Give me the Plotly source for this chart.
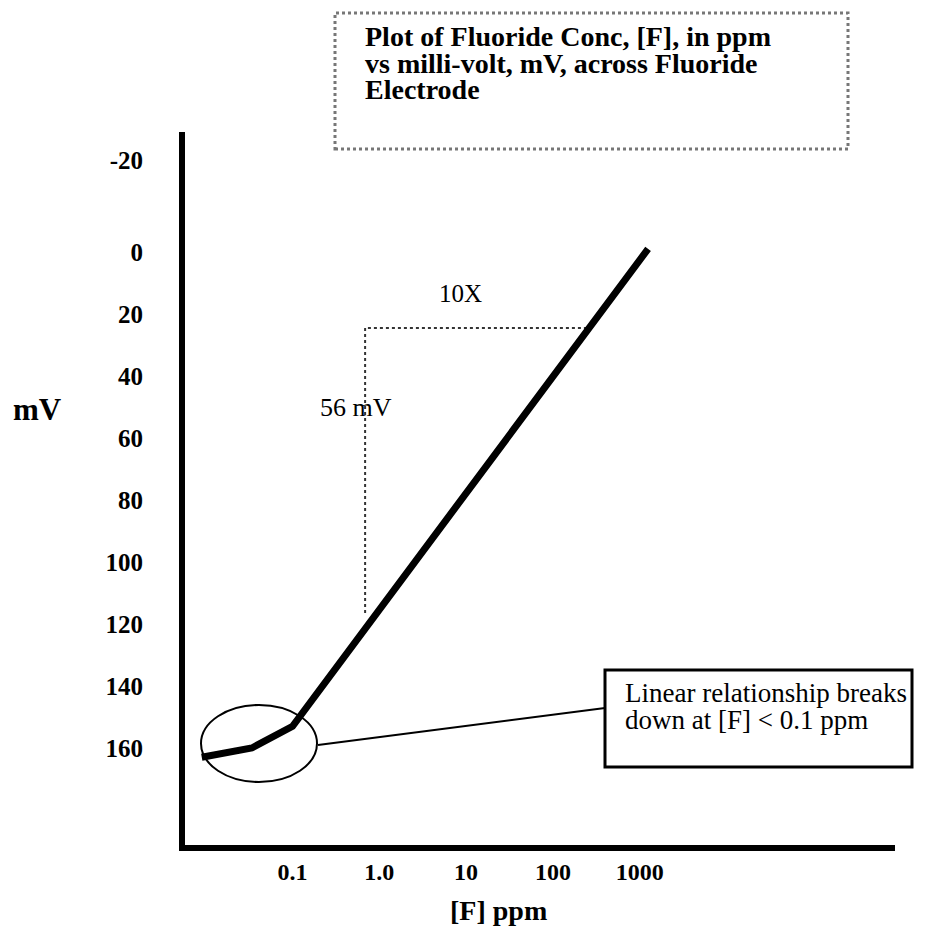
import plotly.graph_objects as go

# ---- data ----
conc_ppm = [0.009, 0.034, 0.1, 1250]        # [F] ppm
millivolts = [163, 160, 153, -1]            # mV

x_tick_vals = [0.1, 1, 10, 100, 1000]
x_tick_text = ["0.1", "1.0", "10", "100", "1000"]
y_tick_text = ["-20", "0", "20", "40", "60", "80", "100", "120", "140", "160"]
y_tick_vals = [-29.7, 0, 20, 40, 60, 80, 100, 120, 140, 160]  # "-20" sits higher in the original

# slope guide (dotted) : 10X horizontally, 56 mV vertically
guide_x = [0.686, 0.686, 268]
guide_y = [116.5, 24.5, 24.5]

title_lines = ["Plot of Fluoride Conc, [F], in ppm",
               "vs milli-volt, mV, across Fluoride",
               "Electrode"]
note_lines = ["Linear relationship breaks", "down at [F] < 0.1 ppm"]

SERIF = "Liberation Serif, Times New Roman, serif"

OFF = 8                      # default page body margin
W, H = 926 - OFF, 927 - OFF
L, R, T, B = 185, 895, 132, 845   # plot area in page pixels


def px(x):
    return (x - L) / (R - L)


def py(y):
    return 1 - (y - T) / (B - T)


fig = go.Figure()

fig.add_trace(go.Scatter(x=guide_x, y=guide_y, mode="lines",
                         line=dict(color="#333333", width=2, dash="dot"),
                         hoverinfo="skip", showlegend=False))
fig.add_trace(go.Scatter(x=conc_ppm, y=millivolts, mode="lines",
                         line=dict(color="black", width=7),
                         showlegend=False))

shapes = [
    # title box (dotted)
    dict(type="rect", xref="paper", yref="paper",
         x0=px(335), x1=px(848), y0=py(149), y1=py(13),
         line=dict(color="#777777", width=3, dash="dot")),
    # ellipse around the non-linear part
    dict(type="circle", xref="paper", yref="paper",
         x0=px(201), x1=px(317), y0=py(782), y1=py(705),
         line=dict(color="black", width=2)),
    # connector line
    dict(type="line", xref="paper", yref="paper",
         x0=px(318), y0=py(745), x1=px(605), y1=py(708),
         line=dict(color="black", width=2)),
    # note box
    dict(type="rect", xref="paper", yref="paper",
         x0=px(605), x1=px(912), y0=py(767), y1=py(670),
         line=dict(color="black", width=3)),
]


def label(text, x, y, size, bold=False, xanchor="center"):
    f = dict(family=SERIF, size=size, color="black")
    if bold:
        f["weight"] = "bold"
    return dict(text=text, xref="paper", yref="paper", x=px(x), y=py(y),
                xanchor=xanchor, yanchor="middle", showarrow=False, font=f)


annotations = []
for i, t in enumerate(title_lines):
    annotations.append(label(t, 363, 36 + 27 * i, 28, bold=True, xanchor="left"))
for i, t in enumerate(note_lines):
    annotations.append(label(t, 623, 693 + 27 * i, 27, xanchor="left"))
annotations += [
    label("10X", 460, 293, 25),
    label("56 mV", 356, 407, 26),
    label("mV", 37, 410, 31, bold=True),
    label("[F] ppm", 498, 910, 28, bold=True),
]

fig.update_layout(
    width=W, height=H,
    margin=dict(l=L - OFF, r=W - (R - OFF), t=T - OFF, b=H - (B - OFF), pad=0),
    paper_bgcolor="white", plot_bgcolor="white",
    shapes=shapes, annotations=annotations,
    xaxis=dict(type="log", range=[-2.239, 5.942],
               tickvals=x_tick_vals, ticktext=x_tick_text,
               showgrid=False, zeroline=False,
               showline=True, linecolor="black", linewidth=6,
               ticks="", ticklabelstandoff=0,
               tickfont=dict(family=SERIF, size=24, color="black", weight="bold")),
    yaxis=dict(range=[191.3, -38.7],
               tickvals=y_tick_vals, ticktext=y_tick_text,
               showgrid=False, zeroline=False,
               showline=True, linecolor="black", linewidth=6,
               ticks="", ticklabelstandoff=31,
               tickfont=dict(family=SERIF, size=25, color="black", weight="bold")),
)

fig.write_html("out.html")
